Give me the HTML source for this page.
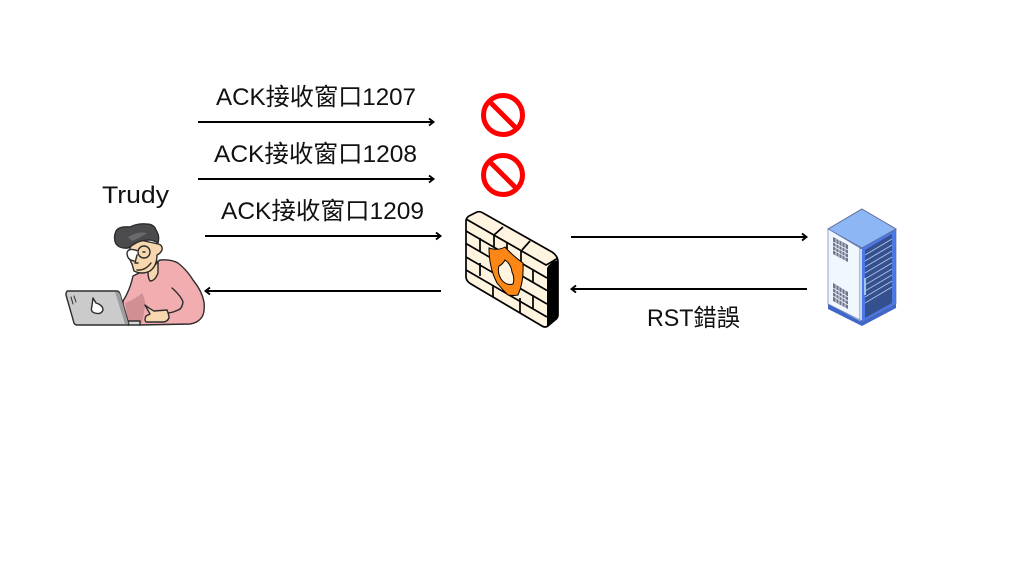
<!DOCTYPE html>
<html><head><meta charset="utf-8"><style>
html,body{margin:0;padding:0;background:#fff}
svg{display:block}
text{font-family:"Liberation Sans","Noto Sans CJK TC",sans-serif;fill:#111;font-size:24px}
</style></head><body>
<svg width="1024" height="576" viewBox="0 0 1024 576" xmlns="http://www.w3.org/2000/svg">
<rect width="1024" height="576" fill="#fff"/>
<defs><clipPath id="fw"><path d="M466 221Q466 217 471 215L477 212Q480 211 483 213L552 252Q558 256 558 262V315Q558 318 555 320L548 326Q545 328 542 326L471 284Q466 281 466 277Z"/></clipPath></defs>

<!-- labels -->
<text x="216" y="105" textLength="200" lengthAdjust="spacingAndGlyphs">ACK接收窗口1207</text>
<text x="214" y="162" textLength="203" lengthAdjust="spacingAndGlyphs">ACK接收窗口1208</text>
<text x="221" y="219" textLength="203" lengthAdjust="spacingAndGlyphs">ACK接收窗口1209</text>
<text x="102" y="203" textLength="67" lengthAdjust="spacingAndGlyphs">Trudy</text>
<text x="647" y="326" textLength="93" lengthAdjust="spacingAndGlyphs">RST錯誤</text>

<!-- arrows -->
<g stroke="#000" stroke-width="1.9" fill="none">
<path d="M198 122H433M429 118.5L433.500 122L429 125.500"/>
<path d="M198 179H433M429 175.500L433.500 179L429 182.500"/>
<path d="M205 236H440M436 232.500L440.500 236L436 239.500"/>
<path d="M441 291H206M210 287.500L205.500 291L210 294.500"/>
<path d="M571 237H806M802 233.500L806.500 237L802 240.500"/>
<path d="M807 289H572M576 285.500L571.500 289L576 292.500"/>
</g>

<!-- prohibition signs -->
<g fill="none" stroke="#fe0000" stroke-width="5">
<circle cx="503" cy="115" r="19.500"/><path d="M490 102L516 128"/>
<circle cx="503" cy="175" r="19.500"/><path d="M490 162L516 188"/>
</g>

<!-- person -->
<g stroke="#2d2d2d" stroke-width="1.4" stroke-linejoin="round" stroke-linecap="round">
<path d="M133 276Q146 270 160 260Q171 259 178 263Q187 270 193 280Q202 291 204 302Q205 312 202 317Q198 323 190 324L140 325L123 322L123 301Q130 290 133 276Z" fill="#f2adb1"/>
<path d="M125 303Q134 300 142 293Q146 300 145 307L142 323H128Z" fill="#cf8f93" stroke="none"/>
<path d="M172 288Q181 296 183 302Q182 309 178 310Q172 313 167 313" fill="none"/>
<path d="M148 272L158 262L158 273Q155 281 150 281Q148 278 148 272Z" fill="#f7d7ad"/>
<path d="M130 248Q133 241 140 240L158 244Q163 245 162 250Q160 254 157 255Q157 266 150 271Q142 275 134 271L132 264Q128 258 130 248Z" fill="#f7d7ad"/>
<path d="M116 244Q113 238 116 231Q119 226 130 227Q138 223 146 224Q154 224 156 230Q160 236 158 243Q155 241 150 240Q141 240 136 243Q131 246 128 248Q120 249 116 244Z" fill="#4b4b4d"/>
<path d="M128 237Q138 231 147 233Q140 238 132 241Z" fill="#6a6a6c" stroke="none"/>
<circle cx="144" cy="252" r="6" fill="none"/>
<path d="M138 251Q128 247 127 253Q127 260 134 261" fill="#fff"/>
<path d="M137 270Q145 271 151 263" fill="none"/>
<path d="M137 255l-2 8l3 0M143 252h2" fill="none"/>
<path d="M145 305Q150 309 154 311L167 310Q169 315 169 318Q167 322 163 322L146 322Q144 320 146 316L150 314Z" fill="#f7d7ad"/>
<path d="M128 321H140V325H128Z" fill="#d6d6d6"/>
<path d="M68 291H117Q119 291 120 294L129 325H77Q75 325 74 323L66 295Q66 291 68 291Z" fill="#cbcbcb"/>
<path d="M118 292L120 294L128.500 324H125L115 292Z" fill="#9d9d9d" stroke="none"/>
<path d="M71 297L73 304M74 296L76 302" fill="none" stroke-width="1"/>
<path d="M93 298L96 303Q103 305 103 310Q101 315 95 313Q90 312 92 306Z" fill="#fff"/>
</g>

<!-- firewall -->
<path d="M466 221Q466 217 471 215L477 212Q480 211 483 213L552 252Q558 256 558 262V315Q558 318 555 320L548 326Q545 328 542 326L471 284Q466 281 466 277Z" fill="#fff4df"/>
<path d="M558 260V315Q558 318 555 320L547 327L547 268Q550 262 558 260Z" fill="#000"/>
<g clip-path="url(#fw)" fill="none" stroke="#000" stroke-width="1.700">
<path d="M466 219L546 265Q550 263 558 258"/>
<path d="M466 231L547 278M466 243.500L547 290.500M466 257L547 304M466 270L547 317"/>
<path d="M494 235L503 227M522 250L530 241"/>
<path d="M480 238V251M494 235V247M521 250V263M533 270V283M480 263V276M493 285V298M520 298V313M533 295V308M507 243V257M507 268V280"/>
</g>
<path d="M466 221Q466 217 471 215L477 212Q480 211 483 213L552 252Q558 256 558 262V315Q558 318 555 320L548 326Q545 328 542 326L471 284Q466 281 466 277Z" fill="none" stroke="#000" stroke-width="1.700"/>
<path d="M489 248Q498 251 505 247Q513 256 523 263Q524 282 518 295Q513 296 508 295Q501 288 497 283Q489 268 489 248Z" fill="#fd8716" stroke="#000" stroke-width="1"/>
<path d="M505 260Q503 264 499 266Q497 272 501 279Q506 286 513 284Q515 278 512 272Q511 264 505 260Z" fill="#fff4df" stroke="#000" stroke-width="1"/>

<!-- server -->
<path d="M828 304L862 322L896 303V308L862 326L828 309Z" fill="#3f66c9"/>
<path d="M862 209L896 229L862 248L828 229Z" fill="#8db6f5" stroke="#5f6d9c"/>
<path d="M828 229L860 248V320L828 304Z" fill="#f1f7ff" stroke="#6c7cb0" stroke-width=".7"/>
<path d="M860 248L862 248L896 229V304L862 322L860 320Z" fill="#4a78e6" stroke="#5f6d9c" stroke-width=".7"/>
<path d="M865 250L892 234V303L865 318Z" fill="#35508f"/>
<g stroke="#a9bde0" stroke-width="1" fill="none">
<path d="M865 255L892 239M865 261L892 245M865 267L892 251M865 273L892 257M865 279L892 263M865 285L892 269M865 291L892 275M865 297L892 281M865 303L892 287"/>
</g>
<path d="M865 278V295" stroke="#a8d0ee" stroke-width="1.800"/>
<path d="M861 249V320" stroke="#c6d4f0" stroke-width="2"/>
<path d="M833 237L848 245V262L833 254Z" fill="#6f7488"/>
<path d="M833 283L848 292V309L833 301Z" fill="#6f7488"/>
<g stroke="#eef3ff" stroke-width=".8" fill="none">
<path d="M836 239V256M839 240V257M842 242V259M845 244V261M833 242L848 250M833 246L848 254M833 250L848 258"/>
<path d="M836 285V303M839 287V304M842 288V306M845 290V308M833 288L848 297M833 292L848 301M833 296L848 305"/>
</g>
</svg>
</body></html>
